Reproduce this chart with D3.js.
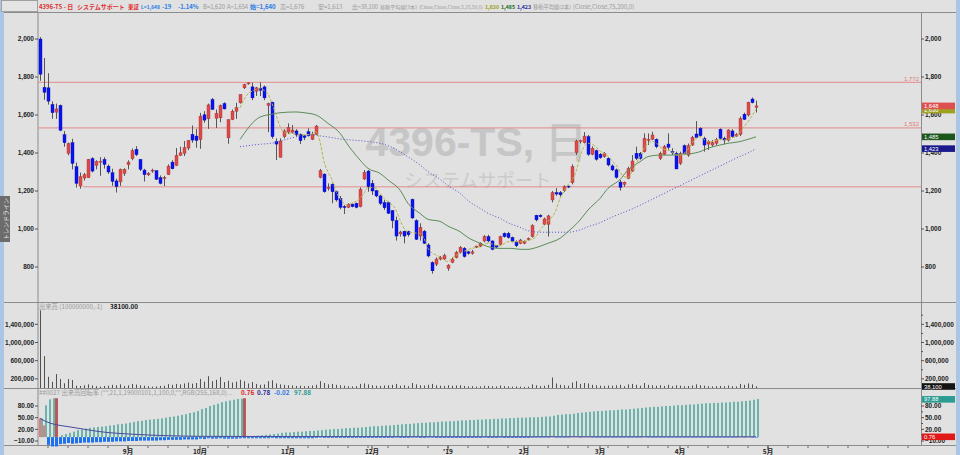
<!DOCTYPE html>
<html><head><meta charset="utf-8">
<script src="https://cdn.jsdelivr.net/npm/d3@7"></script>
<style>body{margin:0;background:#e1e1e1;} svg{display:block;}</style>
</head><body><svg id="c" width="960" height="455"></svg>
<script>
// ---------- DATA ----------
const opens = [2000,1745,1743,1655,1615,1650,1496,1398,1454,1328, 1226,1268,1270,1370,1335,1355,1366,1331,1296,1253, 1248,1293,1338,1370,1419,1366,1310,1285,1306,1307, 1270,1268,1286,1352,1335,1387,1398,1426,1498,1489, 1471,1601,1580,1681,1583,1585,1660,1480,1576,1620, 1664,1743,1764,1748,1725,1741,1748,1650,1667,1460, 1377,1486,1510,1510,1516,1498,1490,1512,1472,1498, 1272,1289,1212,1235,1196,1161,1118,1114,1130,1135, 1118,1263,1305,1240,1202,1174,1139,1139,1097,1044, 974,988,988,1156,1044,963,988,916,823,815, 842,842,793,825,849,877,898,880,872,908, 910,937,960,937,912,920,977,977,955,932, 925,925,945,960,1072,1072,1025,1025,1153,1191, 1191,1202,1226,1244,1402,1460,1454,1486,1393,1412, 1393,1381,1372,1332,1311,1247,1235,1267,1305,1398, 1398,1407,1470,1472,1472,1372,1393,1447,1408,1398, 1346,1438,1389,1442,1500,1530,1477,1447,1442,1451, 1525,1477,1468,1516,1489,1498,1604,1600,1684,1640];
const highs = [2010,1900,1820,1672,1660,1655,1515,1455,1475,1350, 1297,1295,1368,1378,1362,1378,1378,1340,1317,1265, 1318,1320,1362,1424,1436,1368,1317,1300,1317,1309, 1282,1280,1340,1362,1426,1433,1463,1468,1545,1527, 1611,1620,1660,1690,1629,1655,1667,1576,1629,1664, 1708,1765,1772,1770,1748,1772,1755,1665,1670,1477, 1477,1525,1556,1547,1525,1503,1495,1530,1512,1547, 1316,1293,1240,1240,1202,1174,1126,1135,1135,1139, 1219,1310,1310,1258,1205,1179,1153,1144,1100,1065, 991,991,991,1160,1051,1030,995,925,830,850, 858,870,815,850,885,910,905,885,890,912, 930,968,970,940,915,965,982,985,960,940, 948,940,955,1025,1075,1078,1060,1075,1200,1215, 1200,1230,1228,1340,1470,1470,1510,1495,1435,1418, 1400,1405,1378,1340,1318,1258,1250,1328,1389,1433, 1405,1503,1503,1512,1477,1407,1442,1503,1425,1407, 1407,1445,1450,1490,1568,1535,1486,1468,1468,1480, 1530,1486,1525,1525,1505,1592,1612,1670,1692,1676];
const lows = [1780,1680,1655,1580,1580,1515,1433,1388,1314,1218, 1212,1255,1268,1298,1314,1280,1318,1290,1227,1192, 1227,1280,1314,1362,1384,1305,1250,1279,1296,1258, 1235,1226,1284,1314,1331,1384,1384,1415,1454,1428, 1422,1559,1527,1629,1531,1562,1629,1449,1573,1580, 1660,1737,1760,1678,1700,1700,1678,1510,1475,1363, 1377,1477,1500,1503,1486,1447,1468,1486,1468,1495, 1267,1191,1202,1135,1144,1104,1079,1111,1114,1109, 1114,1258,1196,1179,1167,1126,1100,1079,1004,939, 960,925,960,1054,942,939,921,851,765,805, 835,838,780,820,845,870,850,865,865,900, 905,930,930,888,900,915,955,950,930,905, 920,920,940,955,1040,1060,1020,960,1140,1175, 1170,1195,1215,1235,1390,1450,1450,1385,1388,1360, 1370,1375,1330,1305,1265,1202,1222,1262,1300,1363, 1365,1403,1442,1468,1425,1363,1389,1416,1390,1316, 1337,1395,1380,1437,1477,1486,1407,1416,1433,1440, 1468,1447,1460,1480,1485,1489,1574,1592,1661,1613];
const closes = [1815,1720,1673,1612,1632,1520,1454,1450,1345,1240, 1275,1286,1366,1305,1356,1357,1340,1300,1251,1223, 1314,1314,1352,1412,1391,1314,1286,1293,1310,1262, 1240,1270,1331,1317,1387,1401,1428,1466,1468,1466, 1594,1573,1653,1629,1608,1650,1632,1576,1620,1638, 1708,1760,1769,1690,1743,1730,1690,1660,1486,1447, 1463,1516,1535,1521,1495,1465,1482,1491,1498,1542, 1307,1196,1219,1196,1153,1114,1116,1131,1118,1114, 1209,1298,1223,1200,1174,1135,1112,1083,1044,963, 984,963,970,1058,946,1009,925,858,780,842, 850,860,810,842,877,904,855,872,880,910, 925,960,937,893,905,960,960,955,935,912, 942,935,950,1018,1048,1065,1053,1069,1191,1184, 1180,1223,1223,1328,1463,1465,1489,1393,1425,1367, 1375,1398,1337,1311,1272,1219,1246,1318,1358,1372, 1372,1477,1472,1495,1433,1398,1433,1430,1407,1316, 1398,1398,1438,1482,1482,1491,1442,1460,1454,1472, 1477,1468,1521,1486,1498,1582,1577,1667,1665,1648];
const volumes = [1705000,700000,247000,138000,306000,197000,103000,197000,175000,50000, 45000,60000,80000,55000,40000,30000,45000,50000,70000,60000, 80000,45000,60000,90000,75000,60000,50000,40000,30000,35000, 45000,50000,85000,70000,90000,80000,100000,120000,95000,110000, 200000,140000,260000,150000,180000,240000,130000,160000,120000,140000, 180000,150000,100000,130000,90000,70000,80000,150000,170000,100000, 80000,70000,60000,55000,45000,50000,40000,45000,55000,70000, 150000,110000,80000,90000,70000,60000,50000,40000,35000,40000, 90000,100000,80000,60000,50000,45000,55000,60000,70000,90000, 50000,60000,40000,110000,80000,60000,55000,70000,90000,60000, 50000,45000,60000,50000,55000,60000,45000,35000,40000,30000, 35000,50000,45000,40000,35000,55000,40000,35000,30000,35000, 30000,25000,30000,80000,60000,40000,50000,70000,230000,100000, 70000,60000,50000,120000,150000,90000,110000,100000,70000,60000, 50000,45000,55000,50000,60000,70000,40000,80000,90000,70000, 50000,110000,70000,60000,50000,60000,45000,70000,40000,60000, 50000,40000,45000,55000,80000,60000,50000,40000,35000,40000, 45000,40000,55000,40000,35000,90000,70000,100000,80000,38100];

// moving averages (bar index, value)
const ma5Idx = [50,51,52,53,54,55,56,57,58,59,60,61,62,63,65,68,69,70,71,72,73,74,75,76,77,78,80,81,82,84,85,86,87,89,90,91,92,93,95,96,97,99,100,101,102,103,105,108,110,112,115,117,120,122,124,125,127,129,130,131,132,134,135,136,137,139,140,141,142,144,146,147,148,149,150,151,152,153,154,155,156,157,158,159,160,161,162,163,164,165,166,167,168,169,170,171,172,173,174,175,176,177,178,179];
const ma5Val = [1638,1681,1712,1725,1735,1738,1730,1710,1661,1600,1540,1510,1505,1504,1495,1500,1512,1460,1354,1300,1258,1197,1161,1135,1126,1135,1161,1188,1219,1214,1188,1161,1144,1100,1047,1004,986,980,977,951,898,863,854,837,828,846,872,898,907,925,911,933,933,939,960,995,1039,1100,1161,1197,1232,1302,1381,1433,1451,1433,1410,1400,1381,1337,1276,1272,1302,1342,1381,1425,1451,1460,1454,1433,1419,1416,1407,1389,1389,1398,1419,1451,1477,1486,1472,1460,1460,1468,1472,1468,1472,1481,1486,1512,1539,1565,1595,1630];
const ma25Idx = [50,55,59,60,64,66,69,72,75,77,80,82,85,87,90,92,95,97,100,102,105,107,110,112,115,118,120,122,124,127,130,132,135,137,140,142,145,147,150,152,155,158,160,162,165,167,170,172,175,177,179];
const ma25Val = [1471,1589,1608,1612,1616,1612,1600,1556,1504,1442,1363,1319,1293,1258,1205,1135,1082,1051,1040,1015,986,955,925,907,898,898,893,893,902,925,951,986,1047,1100,1161,1214,1260,1311,1354,1381,1389,1389,1393,1395,1407,1425,1442,1451,1460,1472,1485];
const ma50Idx = [50,55,58,60,63,66,68,70,73,75,78,80,83,85,88,90,92,95,97,100,102,105,107,110,112,115,117,120,122,125,128,130,132,135,137,140,142,145,148,150,153,156,159,162,165,168,170,172,175,177,179];
const ma50Val = [1433,1446,1452,1462,1480,1492,1495,1490,1481,1474,1468,1465,1458,1451,1430,1407,1380,1337,1302,1262,1228,1188,1150,1109,1083,1056,1033,1009,991,983,983,983,983,995,1012,1033,1053,1080,1105,1125,1156,1187,1218,1249,1280,1311,1331,1352,1382,1400,1423];

// turnover-rate panel
const turnCum = [48,82,97,100,100,5,8,11,14,18, 20,22,24,25,26,27,28,30,31,33, 34,35,37,39,41,42,44,45,46,47, 48,50,52,53,55,57,59,62,64,67, 72,75,80,83,86,90,92,94,96,98, 99,100,2,3,4,5,6,7,8,9, 11,12,12,13,14,14,15,16,16,17, 18,19,20,21,21,22,23,23,24,24, 25,26,27,28,28,29,30,30,31,32, 33,34,34,35,36,37,37,38,38,39, 40,40,41,41,42,43,43,44,44,45, 45,46,46,47,47,48,48,49,49,50, 50,50,51,51,51,52,53,53,55,57, 58,59,59,60,62,63,64,65,66,67, 67,68,69,69,70,71,71,72,73,74, 75,76,77,78,78,79,80,80,81,82, 82,83,84,84,85,86,87,87,88,88, 89,89,90,91,91,92,93,94,96,97.88];
const turnReset = [4,51];
const turnDiff = [48,30,-20,-24,-24,-18,-17,-15,-17,-16, -15,-14,-14,-14,-13,-13,-12,-12,-12,-11, -11,-11,-10,-10,-10,-9,-9,-9,-9,-9, -8,-8,-7,-7,-7,-7,-6,-6,-6,-6, -4,-5,-3,-4,-4,-3,-4,-4,-4,-4, -3,-3,-3,-3,-3,-3,-3,-3,-2,-3, -3,-3,-3,-3,-3,-3,-3,-3,-3,-2, -1,-2,-2,-2,-2,-2,-2,-2,-2,-2, -2,-2,-2,-2,-2,-2,-2,-2,-2,-1, -2,-2,-2,-1,-1,-2,-2,-1,-1,-2, -2,-2,-2,-2,-2,-2,-2,-2,-2,-2, -2,-1,-2,-2,-2,-1,-2,-2,-2,-2, -2,-2,-2,-1,-1,-1,-1,-1,3,-1, -1,-1,-1,1,1,-1,0.5,0.5,-1,-1, -1,-1,-1,-1,-1,-1,-1,-1,-1,-1, -1,0.5,-1,-1,-1,-1,-1,-1,-1,-1, -1,-1,-1,-1,-1,-1,-1,-1,-1,-1, -1,-1,-1,-1,-1,0.3,-0.5,0.5,-0.3,-0.02];
const turnAvgIdx = [0,2,5,7,10,15,23,32,40,60,100,140,179];
const turnAvgVal = [48,38,30,27,22,14,7.5,3.6,2,1.5,1,0.9,0.78];

const priceTicks = [2000,1800,1600,1400,1200,1000,800];
const volTicks = [200000,600000,1000000,1400000];
const oscTicks = [80,50,20,-10];
const monthLabels = ["9月","10月","11月","12月","'19","2月","3月","4月","5月"];
const monthBars = [22,40,62,83,102,121,140,160,182];
const hLines = [1772,1532,1222];

// ---------- DRAW ----------
const svg = d3.select("#c");
const FONT = "'Liberation Sans', Arial, sans-serif";
const JP = "'Noto Sans CJK JP',sans-serif";
const L = 38, R = 921;
const x = d3.scaleLinear().domain([0,179]).range([40,756]);
const y = d3.scaleLinear().domain([800,2000]).range([267,39]);
const yv = d3.scaleLinear().domain([0,1400000]).range([388,324.3]);
const yo = d3.scaleLinear().domain([-10,80]).range([441,406]);

svg.append("rect").attr("width",960).attr("height",455).attr("fill","#e1e1e1");
svg.append("rect").attr("x",0).attr("y",0).attr("width",4).attr("height",455).attr("fill","#aac6e4");
svg.append("rect").attr("x",956).attr("y",0).attr("width",4).attr("height",455).attr("fill","#aac6e4");
svg.append("rect").attr("x",1.5).attr("y",0.5).attr("width",36).attr("height",11).attr("fill","#e4e4e4").attr("stroke","#a0a0a0");

// watermark
svg.append("text").attr("x",476).attr("y",156).attr("text-anchor","middle").attr("font-family",FONT)
  .attr("font-weight","bold").attr("font-size",41).attr("fill","#c6c6c6").text("4396-TS, 日");
svg.append("text").attr("x",478).attr("y",187).attr("text-anchor","middle").attr("font-family",JP)
  .attr("font-size",18.5).attr("fill","#cbcbcb").text("システムサポート");

// panel lines
const lineCol = "#8c8c8c";
[12.5,302.5,388.5,445.5].forEach(yy=>svg.append("line").attr("x1",4).attr("x2",956).attr("y1",yy).attr("y2",yy).attr("stroke",lineCol));
svg.append("line").attr("x1",L).attr("x2",L).attr("y1",12).attr("y2",446).attr("stroke",lineCol);
svg.append("line").attr("x1",R+0.5).attr("x2",R+0.5).attr("y1",12).attr("y2",446).attr("stroke",lineCol);

// horizontal trend lines
const hl = svg.append("g");
hLines.forEach((v,k)=>{
  hl.append("line").attr("x1",k===2?83:L).attr("x2",R).attr("y1",y(v)).attr("y2",y(v)).attr("stroke","#e48a8a").attr("stroke-width",1);
  if(k<2) hl.append("text").attr("x",919).attr("y",y(v)-1.5).attr("text-anchor","end").attr("font-family",FONT)
     .attr("font-size",6).attr("fill","#e07a7a").text(d3.format(",")(v));
});

// axes labels
function leftRight(ticks, scale, fmt, minor){
  const g = svg.append("g").attr("font-family",FONT).attr("font-size",6.5).attr("font-weight","bold").attr("fill","#222");
  ticks.forEach(t=>{
    const yy = scale(t);
    g.append("text").attr("x",34).attr("y",yy+2.3).attr("text-anchor","end").text(fmt(t));
    g.append("line").attr("x1",35).attr("x2",L).attr("y1",yy).attr("y2",yy).attr("stroke","#555");
    g.append("text").attr("x",925).attr("y",yy+2.3).text(fmt(t));
    g.append("line").attr("x1",R).attr("x2",R+3).attr("y1",yy).attr("y2",yy).attr("stroke","#555");
  });
  (minor||[]).forEach(t=>{
    g.append("line").attr("x1",R).attr("x2",R+2).attr("y1",scale(t)).attr("y2",scale(t)).attr("stroke","#555");
  });
}
leftRight(priceTicks, y, d3.format(","));
leftRight(volTicks, yv, d3.format(","), [400000,800000,1200000,1600000]);
leftRight(oscTicks, yo, d3.format(".2f"), [65,35,5]);

// candles
const cg = svg.append("g");
const BLUE = "#0a14f0", RED = "#dc4a4a";
d3.range(closes.length).forEach(i=>{
  const up = closes[i] >= opens[i];
  const cx = Math.round(x(i));
  cg.append("line").attr("x1",cx+0.5).attr("x2",cx+0.5).attr("y1",y(highs[i])).attr("y2",y(lows[i])).attr("stroke","#555").attr("stroke-width",1);
  const top = y(Math.max(opens[i],closes[i])), bot = y(Math.min(opens[i],closes[i]));
  cg.append("rect").attr("x",cx-1).attr("y",top).attr("width",3).attr("height",Math.max(1,bot-top))
    .attr("fill",up?RED:BLUE).attr("stroke",up?"#a83030":"#0008b0").attr("stroke-width",0.4);
});

// moving averages
const line = d3.line().x(d=>x(d[0])).y(d=>y(d[1])).curve(d3.curveMonotoneX);
svg.append("path").attr("d",line(ma50Idx.map((d,k)=>[d,ma50Val[k]]))).attr("fill","none").attr("stroke","#5050c8").attr("stroke-width",1).attr("stroke-dasharray","1,2");
svg.append("path").attr("d",line(ma25Idx.map((d,k)=>[d,ma25Val[k]]))).attr("fill","none").attr("stroke","#5c8c5c").attr("stroke-width",1);
svg.append("path").attr("d",line(ma5Idx.map((d,k)=>[d,ma5Val[k]]))).attr("fill","none").attr("stroke","#b4b44c").attr("stroke-width",1).attr("stroke-dasharray","3,1.5");

// volume
const vg = svg.append("g");
volumes.forEach((v,i)=>{
  const cx = Math.round(x(i))+0.5;
  vg.append("line").attr("x1",cx).attr("x2",cx).attr("y1",yv(0)).attr("y2",yv(v)).attr("stroke","#505050").attr("stroke-width",1);
});

// oscillator
const og = svg.append("g");
turnDiff.forEach((v,i)=>{
  const cx = Math.round(x(i));
  og.append("rect").attr("x",cx-1).attr("width",3).attr("y",Math.min(yo(0),yo(v))).attr("height",Math.max(0.5,Math.abs(yo(v)-yo(0))))
    .attr("fill", v>=0?"#ee7676":"#1e72f0");
});
turnCum.forEach((v,i)=>{
  const cx = Math.round(x(i));
  const reset = turnReset.includes(i);
  og.append("rect").attr("x",cx+ (reset?-1:1)).attr("width",reset?3:2).attr("y",yo(v)).attr("height",yo(0)-yo(v))
    .attr("fill", reset?"#b85a5a":"#6ab4ac");
});
og.append("path").attr("d",d3.line().x(d=>x(d[0])).y(d=>yo(d[1])).curve(d3.curveMonotoneX)(turnAvgIdx.map((d,k)=>[d,turnAvgVal[k]])))
  .attr("fill","none").attr("stroke","#4a4aa0").attr("stroke-width",1);

// x axis
const xg = svg.append("g").attr("font-family",JP).attr("font-size",6.5).attr("font-weight","bold").attr("fill","#222");
d3.range(2,220,5).forEach(i=>{
  xg.append("line").attr("x1",x(i)).attr("x2",x(i)).attr("y1",446).attr("y2",448).attr("stroke","#666");
});
monthLabels.forEach((m,k)=>{
  const xx = x(monthBars[k]);
  xg.append("line").attr("x1",xx).attr("x2",xx).attr("y1",446).attr("y2",450).attr("stroke","#444");
  xg.append("text").attr("x",xx).attr("y",454).attr("text-anchor","middle").text(m);
});

// value tags (last values on the right axis)
function tag(cy, txt, col){
  svg.append("rect").attr("x",922).attr("y",cy-3.3).attr("width",33).attr("height",6.6).attr("fill",col);
  svg.append("text").attr("x",924).attr("y",cy+2.1).attr("font-family",FONT).attr("font-size",5.8).attr("fill","#fff").text(txt);
}
tag(y(ma5Val[ma5Val.length-1])+0.8,"1,630","#a0a020");
tag(y(closes[179]),"1,648","#de5050");
tag(y(ma25Val[ma25Val.length-1]),"1,485","#1c561c");
tag(y(ma50Val[ma50Val.length-1]),"1,423","#1a1a8c");
tag(yv(0)-1.5,"38,100","#141414");
tag(yo(97.88)+0.3,"97.88","#2a9c92");
tag(yo(0)-0.3,"0.76","#e01818");

// header texts: each segment starts where the reference shows it and is shrunk to fit before the next
const hdr = svg.append("g").attr("font-family",JP);
const GR = "#9a9a9a", BL = "#2a7ae6", RD = "#e03030";
const segs = [[39,"4396-TS - 日",RD],[77,"システムサポート",RD],[128,"東証",RD],[141,"L=1,648",BL],[162,"-19",BL],[178,"-1.14%",BL],
  [203,"B=1,620",GR],[227,"A=1,654",GR],[250,"始=1,640",BL],[280,"高=1,676",GR],[318,"安=1,613",GR],[352,"出=38,100",GR],
  [380,"移動平均線(3本)",GR],[419,"(Close,Close,Close,5,25,50,0)",GR],[485,"1,630","#9a9a10"],[501,"1,485","#1a6a1a"],[517,"1,423","#1a2a9a"],
  [533,"移動平均線(2本)",GR],[573,"(Close,Close,75,200,0)",GR]];
segs.forEach((s,k)=>{
  const avail = (k<segs.length-1 ? segs[k+1][0] : 690) - s[0] - 2;
  const t = hdr.append("text").attr("x",s[0]).attr("y",8.5).attr("fill",s[2]).attr("font-size",6)
    .attr("font-weight",s[2]===GR?"normal":"bold").text(s[1]);
  const w = t.node().getComputedTextLength();
  if (w > avail) t.attr("font-size", (6*avail/w).toFixed(2));
});

// panel titles
const pt = svg.append("g").attr("font-family",JP).attr("font-size",6.3);
pt.append("text").attr("x",39).attr("y",309).attr("fill",GR).text("出来高 (100000000,-1)");
pt.append("text").attr("x",110).attr("y",309).attr("fill","#111").attr("font-weight","bold").text("38100.00");
const ot = pt.append("text").attr("x",39).attr("y",395).attr("fill",GR)
  .text("##0027 出来高回転率 (\"\",21,1,19000101,1,100,0,\"\",RGB(255,168,0)...");
const ow = ot.node().getComputedTextLength();
if (ow > 199) ot.attr("font-size",(6.3*199/ow).toFixed(2));
pt.append("text").attr("x",241).attr("y",395).attr("fill","#e02020").attr("font-weight","bold").text("0.76");
pt.append("text").attr("x",257).attr("y",395).attr("fill","#2a2a9a").attr("font-weight","bold").text("0.78");
pt.append("text").attr("x",274).attr("y",395).attr("fill",BL).attr("font-weight","bold").text("-0.02");
pt.append("text").attr("x",294).attr("y",395).attr("fill","#2a9c92").attr("font-weight","bold").text("97.88");

// left side label box
svg.append("rect").attr("x",0).attr("y",196).attr("width",10).attr("height",46).attr("fill","#6c6c6c");
svg.append("text").attr("transform","translate(7.5,219) rotate(-90)").attr("text-anchor","middle").attr("font-family",JP)
  .attr("font-size",6).attr("fill","#eee").text("トレンドライン");
</script></body></html>
